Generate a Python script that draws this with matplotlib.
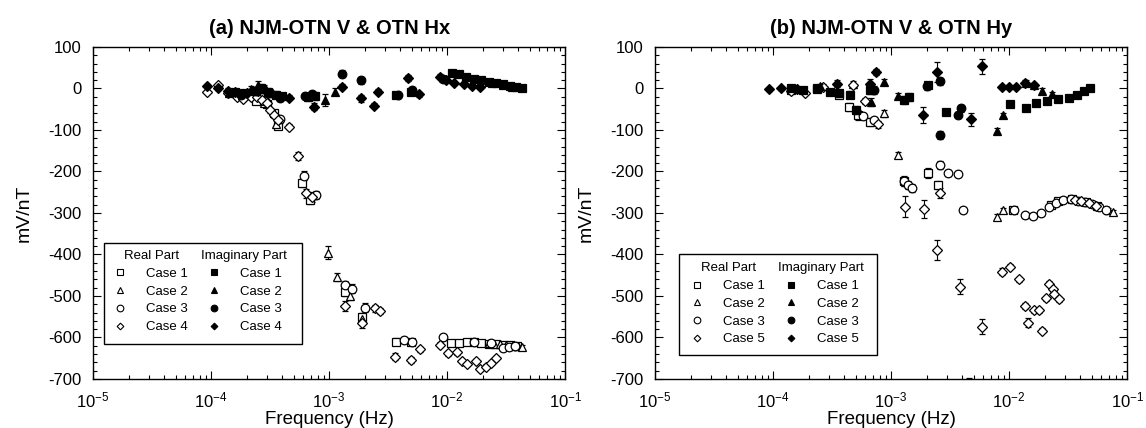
import matplotlib
matplotlib.use('Agg')
import matplotlib.pyplot as plt
from matplotlib.lines import Line2D
from matplotlib.patches import Rectangle
from matplotlib.ticker import LogLocator, MultipleLocator, NullFormatter

plt.rcParams['font.family'] = ['Liberation Sans', 'DejaVu Sans']
plt.rcParams['mathtext.fontset'] = 'custom'
plt.rcParams['mathtext.rm'] = 'Liberation Sans'
plt.rcParams['axes.unicode_minus'] = False

# ---------------- panel (a): NJM-OTN V & OTN Hx ----------------
a_c1_re_f = [2.4e-4, 2.95e-4, 3.39e-4, 3.72e-4, 5.9e-4, 6.9e-4, 1.35e-3, 1.9e-3, 3.7e-3, 4.9e-3,
             1.07e-2, 1.26e-2, 1.48e-2, 1.7e-2, 1.95e-2, 2.24e-2, 2.57e-2, 2.95e-2, 3.39e-2, 3.9e-2]
a_c1_re_v = [-30, -38, -60, -90, -228, -268, -490, -550, -610, -612,
             -614, -614, -612, -612, -614, -616, -616, -618, -618, -620]
a_c1_re_e = [6, 6, 8, 8, 10, 10, 10, 10, 8, 6, 5, 5, 5, 5, 5, 5, 5, 5, 5, 5]

a_c2_re_f = [2.82e-4, 3.55e-4, 9.8e-4, 1.17e-3, 1.51e-3, 1.9e-3,
             2.24e-2, 2.51e-2, 2.82e-2, 3.16e-2, 3.55e-2, 3.98e-2, 4.27e-2]
a_c2_re_v = [-35, -85, -396, -454, -500, -555, -614, -616, -616, -618, -620, -620, -624]
a_c2_re_e = [6, 8, 16, 10, 10, 10, 5, 5, 5, 5, 5, 5, 5]

a_c3_re_f = [2.88e-4, 3.8e-4, 6.17e-4, 7.8e-4, 1.35e-3, 1.55e-3, 2.0e-3, 4.27e-3, 5.0e-3,
             9.3e-3, 1.7e-2, 2.34e-2, 2.95e-2, 3.31e-2, 3.72e-2]
a_c3_re_v = [-30, -74, -210, -256, -474, -482, -528, -606, -610,
             -600, -610, -614, -626, -622, -620]
a_c3_re_e = [5, 8, 10, 10, 10, 10, 10, 8, 6, 6, 5, 5, 5, 5, 5]

a_c4_re_f = [9.3e-5, 1.15e-4, 1.38e-4, 1.66e-4, 1.86e-4, 2.19e-4, 2.45e-4, 2.69e-4, 2.95e-4, 3.16e-4,
             3.39e-4, 3.72e-4, 4.57e-4, 5.5e-4, 6.4e-4, 7.2e-4, 1.35e-3, 1.9e-3, 2.45e-3, 2.69e-3,
             3.63e-3, 4.9e-3, 5.9e-3, 8.7e-3, 1.02e-2, 1.2e-2, 1.33e-2, 1.48e-2, 1.74e-2, 1.9e-2,
             2.14e-2, 2.34e-2, 2.57e-2]
a_c4_re_v = [-8, 9, -12, -20, -25, -20, -20, -27, -34, -52,
             -64, -76, -92, -163, -253, -261, -524, -564, -530, -536,
             -646, -654, -628, -618, -638, -636, -656, -664, -656, -676,
             -670, -662, -650]
a_c4_re_e = [4, 4, 5, 5, 5, 5, 5, 5, 6, 6, 6, 8, 6, 10, 10, 12, 12, 12, 8, 8,
             8, 8, 6, 6, 6, 6, 5, 5, 5, 5, 5, 5, 5]

a_c1_im_f = [1.58e-4, 1.9e-4, 2.29e-4, 2.63e-4, 3.02e-4, 3.55e-4, 3.98e-4, 6.6e-4, 7.6e-4, 3.72e-3,
             4.9e-3, 1.1e-2, 1.26e-2, 1.45e-2, 1.7e-2, 1.95e-2, 2.24e-2, 2.57e-2, 2.95e-2, 3.39e-2,
             3.8e-2, 4.27e-2]
a_c1_im_v = [-8, -12, -5, 2, -8, -15, -18, -20, -18, -16,
             -8, 38, 34, 28, 24, 20, 16, 13, 10, 6, 3, 0]
a_c1_im_e = [6, 6, 8, 10, 8, 8, 8, 10, 10, 6, 6, 5, 5, 5, 5, 5, 5, 5, 5, 5, 5, 5]

a_c2_im_f = [1.41e-4, 2.19e-4, 2.51e-4, 2.82e-4, 9.3e-4, 1.12e-3, 2.4e-2, 2.95e-2, 3.55e-2]
a_c2_im_v = [-10, -2, 8, 0, -28, -8, 14, 8, 4]
a_c2_im_e = [6, 8, 10, 8, 14, 8, 5, 5, 5]

a_c3_im_f = [1.78e-4, 2.4e-4, 2.75e-4, 3.16e-4, 3.8e-4, 6.3e-4, 7.2e-4, 1.29e-3, 1.86e-3, 3.8e-3,
             5.0e-3, 9.3e-3]
a_c3_im_v = [-15, -6, -2, -10, -22, -18, -14, 36, 20, -16, -4, 24]
a_c3_im_e = [6, 8, 8, 8, 8, 8, 8, 8, 8, 8, 6, 6]

a_c4_im_f = [9.3e-5, 1.15e-4, 1.38e-4, 1.58e-4, 2.0e-4, 2.51e-4, 4.57e-4, 7.4e-4, 1.29e-3, 1.86e-3,
             2.4e-3, 2.57e-3, 4.68e-3, 5.75e-3, 8.7e-3, 9.8e-3, 1.15e-2, 1.38e-2, 1.62e-2, 1.9e-2]
a_c4_im_v = [6, 2, -5, -8, -10, -6, -22, -44, 4, -24, -42, -8, 25, -14, 28, 20, 14, 10, 6, 4]
a_c4_im_e = [5, 5, 5, 6, 6, 6, 6, 8, 6, 8, 6, 6, 8, 6, 6, 5, 5, 5, 5, 5]

# ---------------- panel (b): NJM-OTN V & OTN Hy ----------------
b_c1_re_f = [1.41e-4, 2.34e-4, 3.63e-4, 4.37e-4, 5.25e-4, 6.6e-4, 1.29e-3, 2.04e-3, 2.51e-3,
             1.07e-2, 2.24e-2, 2.57e-2, 3.39e-2, 4.5e-2, 5.6e-2]
b_c1_re_v = [-3, 2, -16, -44, -64, -80, -222, -204, -232, -292, -280, -272, -267, -274, -282]
b_c1_re_e = [5, 5, 6, 10, 12, 10, 12, 12, 10, 6, 6, 6, 6, 6, 6]

b_c2_re_f = [4.79e-4, 8.7e-4, 1.15e-3, 7.9e-3, 8.9e-3, 6.9e-2, 7.6e-2]
b_c2_re_v = [12, -60, -160, -309, -293, -292, -298]
b_c2_re_e = [6, 8, 8, 6, 6, 5, 5]

b_c3_re_f = [5.75e-4, 7.2e-4, 1.29e-3, 1.38e-3, 1.51e-3, 2.57e-3, 3.02e-3, 3.72e-3, 4.07e-3,
             1.1e-2, 1.35e-2, 1.58e-2, 1.86e-2, 2.19e-2, 2.51e-2, 2.88e-2, 3.31e-2, 3.8e-2,
             4.37e-2, 5.0e-2, 5.75e-2, 6.6e-2]
b_c3_re_v = [-66, -76, -224, -232, -240, -184, -204, -206, -293,
             -293, -305, -307, -300, -286, -276, -268, -266, -270, -274, -278, -285, -292]
b_c3_re_e = [6, 8, 10, 10, 10, 10, 8, 8, 6, 6, 6, 6, 6, 6, 6, 6, 6, 6, 6, 6, 6, 6]

# one Case 5 point lies below the frame; only its upper error cap shows on the axis
b_c5_re_f = [1.41e-4, 1.86e-4, 2.63e-4, 4.79e-4, 6.0e-4, 7.8e-4, 1.32e-3, 1.9e-3, 2.45e-3, 2.57e-3,
             3.8e-3, 4.6e-3, 5.9e-3, 8.7e-3, 1.02e-2, 1.2e-2, 1.35e-2, 1.45e-2, 1.62e-2, 1.78e-2,
             1.9e-2, 2.04e-2, 2.19e-2, 2.34e-2, 2.4e-2, 2.63e-2, 3.6e-2, 4.1e-2, 4.7e-2, 5.4e-2]
b_c5_re_v = [-7, -12, 4, 8, -30, -86, -285, -291, -389, -252,
             -478, -722, -574, -441, -429, -460, -524, -564, -534, -534,
             -584, -506, -470, -484, -494, -508, -268, -272, -277, -282]
b_c5_re_e = [4, 4, 6, 6, 8, 8, 25, 22, 25, 12, 18, 24, 18, 8, 6, 6, 8, 10, 6, 6,
             6, 6, 6, 6, 6, 6, 5, 5, 5, 5]

b_c1_im_f = [1.41e-4, 1.78e-4, 2.34e-4, 3.02e-4, 3.63e-4, 4.47e-4, 5.0e-4, 6.6e-4, 1.29e-3, 1.41e-3,
             2.04e-3, 2.92e-3, 1.02e-2, 1.38e-2, 1.7e-2, 2.09e-2, 2.57e-2, 3.24e-2, 3.72e-2, 4.27e-2,
             4.8e-2]
b_c1_im_v = [0, -4, -2, -8, -12, -15, -52, -3, -28, -20,
             8, -56, -38, -46, -34, -30, -26, -22, -16, -6, 0]
b_c1_im_e = [5, 5, 6, 6, 8, 8, 10, 10, 10, 10, 8, 6, 6, 6, 6, 6, 6, 6, 6, 6, 6]

b_c2_im_f = [2.51e-4, 6.76e-4, 8.7e-4, 1.15e-3, 7.9e-3, 8.9e-3, 1.38e-2, 1.62e-2, 1.9e-2, 2.3e-2]
b_c2_im_v = [5, -32, 16, -18, -102, -64, 14, 8, -6, -14]
b_c2_im_e = [6, 10, 8, 8, 6, 6, 6, 6, 6, 6]

b_c3_im_f = [7.2e-4, 2.0e-3, 2.57e-3, 2.6e-3, 3.72e-3, 3.89e-3]
b_c3_im_v = [-3, 5, 17, -112, -64, -48]
b_c3_im_e = [10, 8, 8, 10, 8, 8]

b_c5_im_f = [9.3e-5, 1.17e-4, 1.58e-4, 3.47e-4, 6.6e-4, 7.4e-4, 1.86e-3, 2.45e-3, 4.79e-3, 5.9e-3,
             8.7e-3, 1.0e-2, 1.15e-2, 1.35e-2, 1.62e-2]
b_c5_im_v = [-2, 0, -2, 12, 12, 40, -64, 40, -74, 53, 3, 3, 3, 14, 8]
b_c5_im_e = [3, 3, 4, 8, 10, 8, 20, 25, 16, 18, 5, 5, 5, 6, 6]

titles = ['(a) NJM-OTN V & OTN Hx', '(b) NJM-OTN V & OTN Hy']
case_labels_a = ['Case 1', 'Case 2', 'Case 3', 'Case 4']
case_labels_b = ['Case 1', 'Case 2', 'Case 3', 'Case 5']

markers = ['s', '^', 'o', 'D']
msizes = [5.4, 5.7, 6.2, 4.8]
LEG_FS = 9.5


def draw_series(ax, f, v, e, k, filled):
    ax.errorbar(f, v, yerr=e, fmt=markers[k], ms=msizes[k],
                mfc='black' if filled else 'white', mec='black', mew=0.9,
                ecolor='black', elinewidth=0.8, capsize=2.3, capthick=0.8, zorder=3 if filled else 2)


def style_axes(ax, title):
    ax.set_xscale('log')
    ax.set_xlim(1e-5, 1e-1)
    ax.set_ylim(-700, 100)
    ax.yaxis.set_major_locator(MultipleLocator(100))
    ax.yaxis.set_minor_locator(MultipleLocator(20))
    ax.xaxis.set_major_locator(LogLocator(base=10, numticks=10))
    ax.xaxis.set_minor_locator(LogLocator(base=10, subs=range(2, 10), numticks=20))
    ax.xaxis.set_minor_formatter(NullFormatter())
    ax.tick_params(which='both', direction='in', top=True, right=True, labelsize=12, width=0.8)
    ax.tick_params(which='major', length=6, pad=8)
    ax.tick_params(which='minor', length=3)
    for s in ax.spines.values():
        s.set_linewidth(1.0)
    ax.set_title(title, fontsize=14.5, fontweight='bold', pad=9)
    ax.set_xlabel('Frequency (Hz)', fontsize=13.5)
    ax.set_ylabel('mV/nT', fontsize=14)
    ax.xaxis.set_label_coords(0.5, -0.095)
    ax.yaxis.set_label_coords(-0.128, 0.5)


def add_legend(ax, case_labels, anchor, frame):
    blank = Line2D([], [], ls='none')
    handles = [blank]
    labels = [' ']
    for k in range(4):
        handles.append(Line2D([], [], ls='none', marker=markers[k], ms=msizes[k] - 1.4,
                              mfc='white', mec='black', mew=0.8))
        labels.append(case_labels[k])
    handles.append(blank)
    labels.append(' ')
    for k in range(4):
        handles.append(Line2D([], [], ls='none', marker=markers[k], ms=msizes[k] - 1.4,
                              mfc='black', mec='black', mew=0.8))
        labels.append(case_labels[k])
    leg = ax.legend(handles, labels, ncol=2, loc='upper left', bbox_to_anchor=anchor,
                    borderaxespad=0, borderpad=0, frameon=False, fontsize=LEG_FS,
                    handlelength=1.0, handletextpad=1.47, columnspacing=1.49, labelspacing=0.42)
    leg.set_zorder(6)
    ax.add_patch(Rectangle(frame[:2], frame[2], frame[3], transform=ax.transAxes,
                           fc='white', ec='black', lw=1.0, zorder=5))
    return leg


fig = plt.figure(figsize=(11.46, 4.28), dpi=100)
ax_a = fig.add_axes([0.0812, 0.1145, 0.412, 0.7757])
ax_b = fig.add_axes([0.5716, 0.1145, 0.412, 0.7757])

a_real = [(a_c1_re_f, a_c1_re_v, a_c1_re_e), (a_c2_re_f, a_c2_re_v, a_c2_re_e),
          (a_c3_re_f, a_c3_re_v, a_c3_re_e), (a_c4_re_f, a_c4_re_v, a_c4_re_e)]
a_imag = [(a_c1_im_f, a_c1_im_v, a_c1_im_e), (a_c2_im_f, a_c2_im_v, a_c2_im_e),
          (a_c3_im_f, a_c3_im_v, a_c3_im_e), (a_c4_im_f, a_c4_im_v, a_c4_im_e)]
b_real = [(b_c1_re_f, b_c1_re_v, b_c1_re_e), (b_c2_re_f, b_c2_re_v, b_c2_re_e),
          (b_c3_re_f, b_c3_re_v, b_c3_re_e), (b_c5_re_f, b_c5_re_v, b_c5_re_e)]
b_imag = [(b_c1_im_f, b_c1_im_v, b_c1_im_e), (b_c2_im_f, b_c2_im_v, b_c2_im_e),
          (b_c3_im_f, b_c3_im_v, b_c3_im_e), (b_c5_im_f, b_c5_im_v, b_c5_im_e)]

panels = [(ax_a, a_real, a_imag, titles[0], case_labels_a, (0.0432, 0.389), (0.0235, 0.105, 0.418, 0.305)),
          (ax_b, b_real, b_imag, titles[1], case_labels_b, (0.075, 0.352), (0.051, 0.072, 0.419, 0.305))]

legends = []
for ax, real, imag, title, cl, anchor, frame in panels:
    for k, (f, v, e) in enumerate(real):
        draw_series(ax, f, v, e, k, False)
    for k, (f, v, e) in enumerate(imag):
        draw_series(ax, f, v, e, k, True)
    style_axes(ax, title)
    legends.append((ax, add_legend(ax, cl, anchor, frame)))

# legend column headers ("Real Part" / "Imaginary Part")
fig.canvas.draw()
renderer = fig.canvas.get_renderer()
for ax, leg in legends:
    texts = leg.get_texts()
    for idx, header, shift in [(0, 'Real Part', 22.5), (5, 'Imaginary Part', 39)]:
        lab = texts[idx + 1].get_window_extent(renderer)
        hb = texts[idx].get_window_extent(renderer)
        x, y = ax.transAxes.inverted().transform((lab.x0 - shift, (hb.y0 + hb.y1) / 2))
        ax.text(x, y, header, transform=ax.transAxes, ha='left', va='center',
                fontsize=LEG_FS, zorder=7)

fig.savefig('out.png', dpi=100)
